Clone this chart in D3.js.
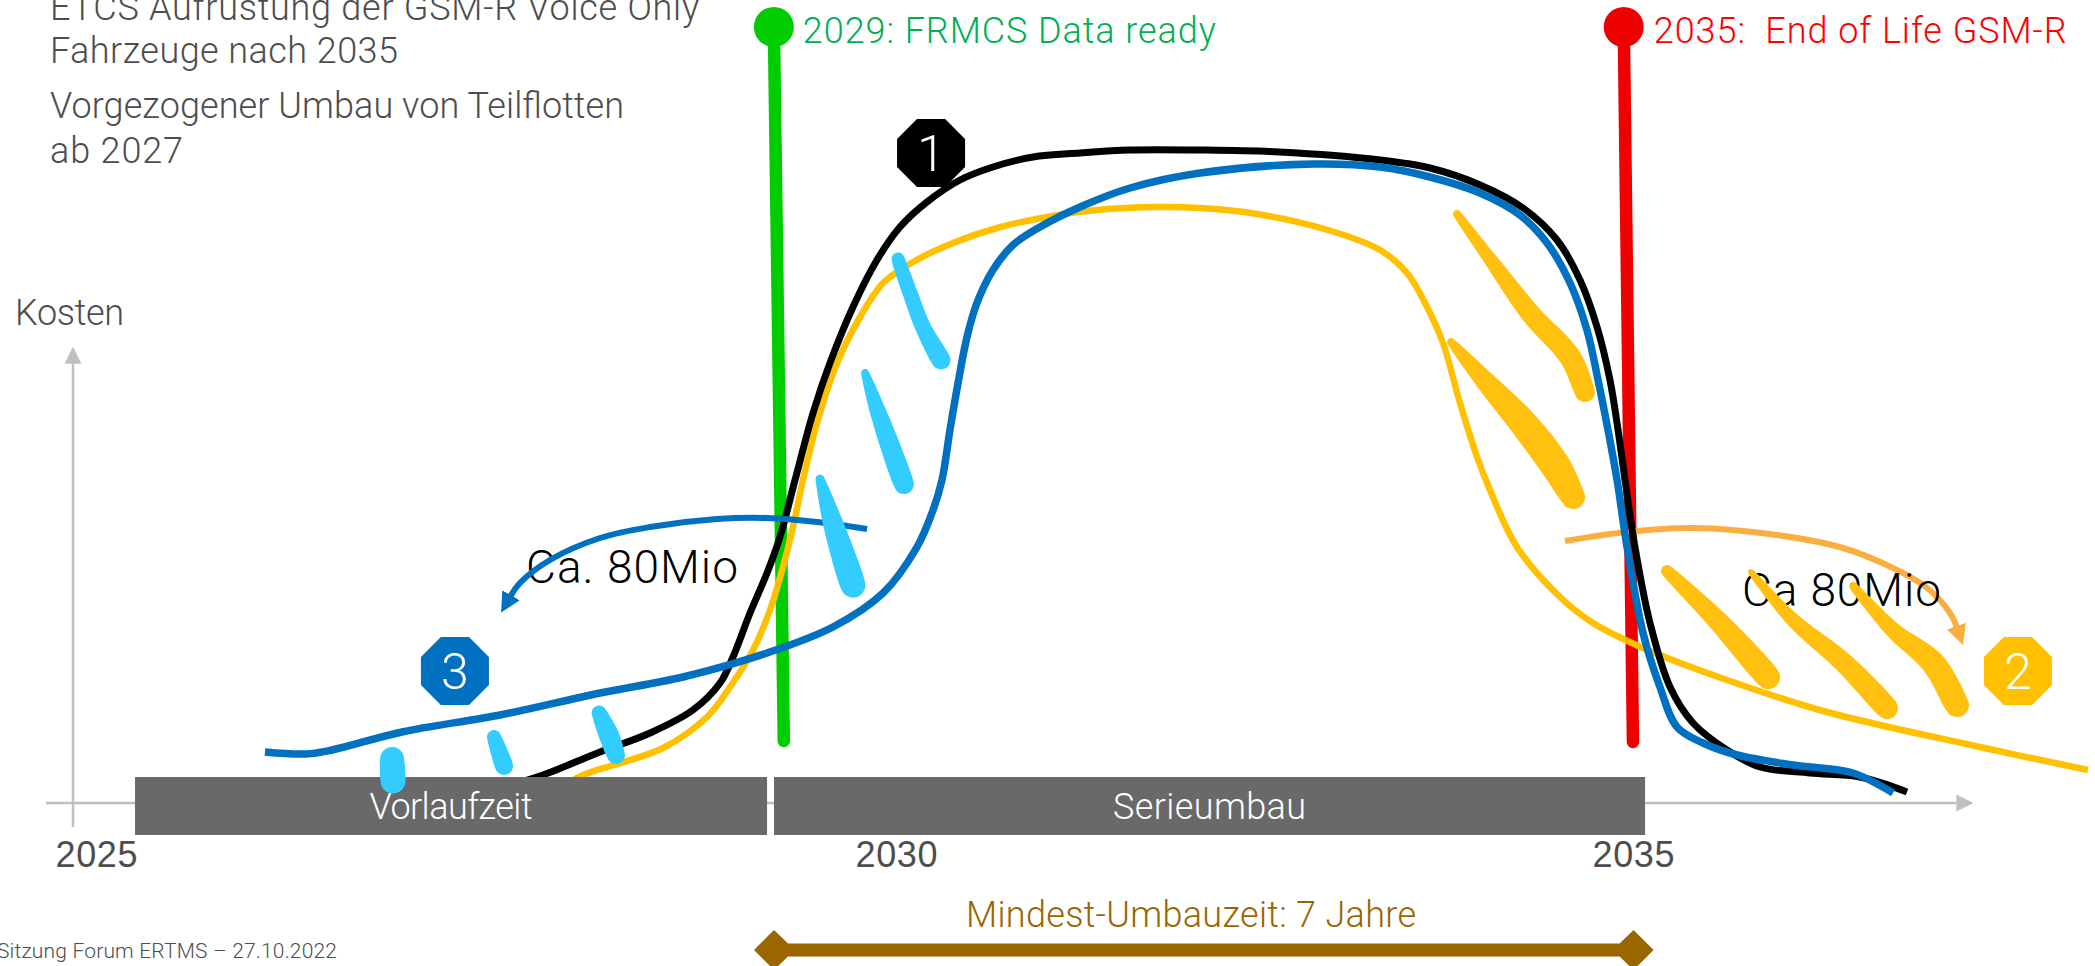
<!DOCTYPE html>
<html lang="de">
<head>
<meta charset="utf-8">
<title>Kostenverlauf ETCS-Aufrüstung</title>
<script src="https://cdn.jsdelivr.net/npm/d3@7/dist/d3.min.js"></script>
<style>
  html, body { margin: 0; padding: 0; background: #fff; overflow: hidden; }
  svg { display: block; }
  text { font-family: Roboto, "Liberation Sans", sans-serif; font-weight: 300; }
</style>
</head>
<body>
<script>
// Cost curves per migration scenario: [year, cost]
const curveBlack = [[2027.127,3.6],[2027.359,5.6],[2027.761,10.2],[2028.113,14],[2028.415,18.6],[2028.606,24],[2028.697,29.2],[2028.817,38],[2028.937,46],[2029.028,53.2],[2029.134,64.6],[2029.261,78],[2029.380,88],[2029.542,99.2],[2029.711,108.6],[2029.873,115.2],[2030.063,120.2],[2030.296,124.6],[2030.528,127.2],[2030.810,129.2],[2031.141,130],[2031.493,130.6],[2031.986,130.6],[2032.542,130.2],[2033.254,128.6],[2033.606,127],[2033.958,123.6],[2034.261,119],[2034.500,112.6],[2034.662,104.6],[2034.782,95.2],[2034.873,84.6],[2034.930,74.6],[2034.979,64.6],[2035.049,51.2],[2035.155,36],[2035.296,23.2],[2035.458,16],[2035.697,10.6],[2035.930,7.2],[2036.282,6],[2036.634,5.2],[2036.965,2.2]];
const curveGold = [[2027.514,3.6],[2027.641,5.6],[2028.204,11],[2028.514,17.2],[2028.676,23.2],[2028.838,30.6],[2028.958,38.6],[2029.049,47.2],[2029.120,55.2],[2029.190,64.6],[2029.289,76],[2029.430,88],[2029.592,97.2],[2029.754,104],[2029.965,108.2],[2030.246,112],[2030.556,115],[2030.908,117.2],[2031.261,118.6],[2031.683,119.2],[2031.986,119],[2032.345,118],[2032.887,114.6],[2033.254,110.6],[2033.444,106],[2033.585,99.2],[2033.697,92],[2033.817,80],[2033.937,69.2],[2034.028,62.6],[2034.218,51.2],[2034.521,41.2],[2034.754,36],[2035.106,31],[2035.697,24.6],[2036.401,18.2],[2037.479,11.2],[2038.239,6.6]];
const curveBlue = [[2025.401,10.2],[2025.690,9.8],[2025.873,10.6],[2026.366,14.2],[2027.056,17.6],[2027.761,22],[2028.345,25.2],[2028.937,30],[2029.401,35.2],[2029.754,42],[2029.993,51.2],[2030.106,58.6],[2030.169,64.6],[2030.225,74.6],[2030.282,84],[2030.345,93.2],[2030.415,100],[2030.528,106.6],[2030.669,111.6],[2030.859,115.2],[2031.141,119.2],[2031.493,123],[2031.986,126],[2032.789,127.8],[2033.254,127.2],[2033.606,125.2],[2033.958,122],[2034.239,117.6],[2034.430,112],[2034.592,104],[2034.711,94.6],[2034.789,84.6],[2034.859,74.6],[2034.923,64.6],[2034.993,51.2],[2035.106,34],[2035.225,23.2],[2035.345,15.2],[2035.528,12],[2035.768,9.6],[2036.162,7.6],[2036.585,6],[2036.866,2]];

// Curved arrows for the 80 Mio shifted in each direction
const arrowBlue = [[2029.641,54.8],[2029.289,56.2],[2028.937,57],[2028.585,56.8],[2028.113,55.2],[2027.761,53],[2027.408,48.6],[2027.197,44],[2027.127,41.2]];
const arrowAmber = [[2034.556,52.4],[2034.993,54.2],[2035.458,55],[2036.049,53.6],[2036.514,51],[2036.866,47],[2037.106,43],[2037.268,38],[2037.317,35]];

// Hatching under the curves, with the pen width along each stroke
const hatchCyan = [
  [[2029.859,108.8],[2029.944,102],[2030.035,95.2],[2030.162,88.6]],
  [[2029.627,86],[2029.732,77.2],[2029.901,63.8]],
  [[2029.310,64.8],[2029.401,56],[2029.542,43.6]],
  [[2027.754,18],[2027.817,14],[2027.873,9.6]],
  [[2027.014,13.2],[2027.085,7.4]],
  [[2026.296,8.8],[2026.303,4.4]]
];
const hatchCyanPen = [[13,15,16,19],[8,17,20],[9,20,25],[15,20,18],[14,18],[24,25]];
const hatchGold = [
  [[2033.796,117.8],[2034.049,108],[2034.310,98],[2034.592,89.2],[2034.697,82.2]],
  [[2033.754,92.2],[2034.007,84],[2034.261,76],[2034.486,67.6],[2034.613,61.2]],
  [[2035.275,46.4],[2035.627,36.6],[2035.986,25.2]],
  [[2035.866,46.2],[2036.162,36.6],[2036.514,28.2],[2036.824,19]],
  [[2036.585,43.4],[2036.866,34.6],[2037.148,28],[2037.317,19.6]]
];
const hatchGoldPen = [[8,14,20,22,20],[8,20,28,30,24],[12,20,24],[6,14,20,22],[8,16,24,24]];

// Milestones and their slight hand-drawn lean at top and foot
const milestoneYears = [2029, 2035];
const milestoneLeanTop = [-0.015, -0.03];
const milestoneLeanFoot = [0.055, 0.035];
const milestoneTop = [155.2, 155.2];
const milestoneFoot = [12.4, 12.2];
const milestoneLabels = ["2029: FRMCS Data ready", "2035:  End of Life GSM-R"];
const milestoneColors = ["#00cc00", "#ee0000"];
const milestoneTextColors = ["#00b050", "#ff0000"];

// Project phases
const phaseNames = ["Vorlaufzeit", "Serieumbau"];
const phaseStart = [2024.486, 2028.986];
const phaseEnd = [2028.937, 2035.120];

// Axis ticks
const tickYears = [2025, 2030, 2035];

// Numbered badges: [year, cost]
const badgeNumbers = ["1", "2", "3"];
const badgeColors = ["#000000", "#ffc000", "#0070c0"];
const badgeCentres = [[2030.092, 130], [2037.746, 26.4], [2026.739, 26.4]];

const W = 2095, H = 966;
const x = d3.scaleLinear().domain([2029, 2035]).range([776, 1628]);
const y = d3.scaleLinear().domain([0, 160.6]).range([803, 0]);
// The printed years sit on their own, schematic spacing
const xTicks = d3.scaleLinear().domain(tickYears).range([96, 896, 1633]);

const svg = d3.select("body").append("svg").attr("width", W).attr("height", H).attr("viewBox", `0 0 ${W} ${H}`);
const grey = "#bfbfbf", ink = "#4d4d4d";

const defs = svg.append("defs");
function arrowMarker(id, color, size) {
  defs.append("marker").attr("id", id).attr("markerUnits", "userSpaceOnUse")
    .attr("viewBox", "0 0 10 10").attr("refX", 1).attr("refY", 5)
    .attr("markerWidth", size).attr("markerHeight", size).attr("orient", "auto")
    .append("path").attr("d", "M0,0L10,5L0,10Z").attr("fill", color);
}
arrowMarker("headBlue", "#0070c0", 20);
arrowMarker("headAmber", "#fbae40", 20);
arrowMarker("headGrey", grey, 17);

const label = (text, px, py, size, color, width, anchor) => svg.append("text")
  .attr("x", px).attr("y", py).attr("font-size", size).attr("fill", color)
  .attr("text-anchor", anchor || "start").attr("textLength", width).text(text);

// Explanatory text top left
label("ETCS Aufrüstung der GSM-R Voice Only", 50, 20, 36, ink, 649);
label("Fahrzeuge nach 2035", 50, 63, 36, ink, 348);
label("Vorgezogener Umbau von Teilflotten", 50, 118, 36, ink, 574);
label("ab 2027", 50, 163, 36, ink, 133);
label("Kosten", 15, 325, 36, ink, 109);

// Axes
svg.append("line").attr("x1", 46).attr("x2", 1958).attr("y1", y(0)).attr("y2", y(0))
  .attr("stroke", grey).attr("stroke-width", 2.5).attr("marker-end", "url(#headGrey)");
svg.append("line").attr("x1", 73).attr("x2", 73).attr("y1", 827).attr("y2", 362)
  .attr("stroke", grey).attr("stroke-width", 2.5).attr("marker-end", "url(#headGrey)");

const axis = svg.append("g").attr("transform", "translate(0,836)")
  .call(d3.axisBottom(xTicks).tickValues(tickYears).tickFormat(d3.format("d")).tickSize(0).tickPadding(0));
axis.select(".domain").remove();
axis.selectAll("text").attr("y", 31).attr("dy", 0).attr("font-size", 36).attr("fill", ink)
  .attr("textLength", 82).style("font-family", "inherit");

// Milestone stems
const ms = svg.append("g").selectAll("g").data(milestoneYears).join("g");
ms.append("line")
  .attr("x1", (d, i) => x(d + milestoneLeanTop[i])).attr("y1", (d, i) => y(milestoneTop[i]))
  .attr("x2", (d, i) => x(d + milestoneLeanFoot[i])).attr("y2", (d, i) => y(milestoneFoot[i]))
  .attr("stroke", (d, i) => milestoneColors[i]).attr("stroke-width", 12.5).attr("stroke-linecap", "round");
ms.append("circle")
  .attr("cx", (d, i) => x(d + milestoneLeanTop[i])).attr("cy", (d, i) => y(milestoneTop[i]))
  .attr("r", 20).attr("fill", (d, i) => milestoneColors[i]);
ms.append("text")
  .attr("x", (d, i) => x(d + milestoneLeanTop[i]) + (i ? 30 : 29))
  .attr("y", 43).attr("font-size", 36).attr("textLength", 413)
  .attr("fill", (d, i) => milestoneTextColors[i])
  .style("white-space", "pre").text((d, i) => milestoneLabels[i]);

// Scenario curves
const curve = d3.line().x(d => x(d[0])).y(d => y(d[1])).curve(d3.curveCatmullRom.alpha(0.5));
const stroke = (data, color, width, extra) => {
  const p = svg.append("path").attr("d", curve(data)).attr("fill", "none")
    .attr("stroke", color).attr("stroke-width", width);
  if (extra) p.attr("marker-end", extra);
  return p;
};
stroke(arrowAmber, "#fbae40", 6, "url(#headAmber)");
stroke(curveGold, "#ffc000", 6.5);
stroke(curveBlack, "#000000", 7);
stroke(curveBlue, "#0070c0", 7.5);

// Phase bars
const bars = svg.append("g").selectAll("g").data(phaseNames).join("g");
bars.append("rect")
  .attr("x", (d, i) => x(phaseStart[i])).attr("width", (d, i) => x(phaseEnd[i]) - x(phaseStart[i]))
  .attr("y", 777).attr("height", 58).attr("fill", "#696969");
bars.append("text")
  .attr("x", (d, i) => i ? 1209.5 : 451).attr("y", 819).attr("text-anchor", "middle")
  .attr("font-size", 36).attr("fill", "#ffffff").attr("textLength", (d, i) => i ? 193 : 163).text(d => d);

// Value labels
label("Ca. 80Mio", 526, 583, 46, "#000000", 212);
label("Ca 80Mio", 1742, 606, 46, "#000000", 199);
stroke(arrowBlue, "#0070c0", 6, "url(#headBlue)");

// Tapered pen stroke: a smooth closed outline offset from the points, with rounded ends
const outline = d3.line().curve(d3.curveCatmullRomClosed.alpha(0.5));
function penPath(points, pen) {
  const pts = points.map(d => [x(d[0]), y(d[1])]);
  const frames = pts.map((p, i) => {
    const a = pts[Math.max(i - 1, 0)], b = pts[Math.min(i + 1, pts.length - 1)];
    const len = Math.hypot(b[0] - a[0], b[1] - a[1]);
    return [(b[0] - a[0]) / len, (b[1] - a[1]) / len];
  });
  const at = (i, deg) => {
    const r = pen[i] / 2, t = frames[i], c = Math.cos(deg * Math.PI / 180), s = Math.sin(deg * Math.PI / 180);
    return [pts[i][0] + r * (c * t[0] - s * t[1]), pts[i][1] + r * (c * t[1] + s * t[0])];
  };
  const last = pts.length - 1;
  const ring = [];
  pts.forEach((p, i) => ring.push(at(i, 90)));
  [60, 30, 0, -30, -60].forEach(a => ring.push(at(last, a)));
  for (let i = last; i >= 0; i--) ring.push(at(i, -90));
  [-120, -150, 180, 150, 120].forEach(a => ring.push(at(0, a)));
  return outline(ring);
}
svg.append("g").selectAll("path").data(hatchCyan).join("path")
  .attr("d", (d, i) => penPath(d, hatchCyanPen[i])).attr("fill", "#33ccff");
svg.append("g").selectAll("path").data(hatchGold).join("path")
  .attr("d", (d, i) => penPath(d, hatchGoldPen[i])).attr("fill", "#ffc010");

// Numbered octagon badges
const octagon = d3.range(8).map(k => {
  const a = Math.PI / 8 + k * Math.PI / 4;
  return [36.8 * Math.cos(a), 36.8 * Math.sin(a)];
});
const badges = svg.append("g").selectAll("g").data(badgeNumbers).join("g")
  .attr("transform", (d, i) => `translate(${x(badgeCentres[i][0])},${y(badgeCentres[i][1])})`);
badges.append("polygon").attr("points", octagon.join(" ")).attr("fill", (d, i) => badgeColors[i]);
badges.append("text").attr("text-anchor", "middle").attr("y", 18).attr("font-size", 50)
  .attr("fill", "#fff").text(d => d);

// Minimum conversion time bracket
const spanStart = 2028.845, spanEnd = 2035.18;
label("Mindest-Umbauzeit: 7 Jahre", 966, 927, 36, "#996600", 450);
const hx1 = x(spanStart), hx2 = x(spanEnd), hy = 950;
svg.append("path").attr("fill", "#996600").attr("d", d3.line()([
  [hx1, hy], [hx1 + 20, hy - 20], [hx1 + 34, hy - 6.5], [hx2 - 34, hy - 6.5], [hx2 - 20, hy - 20],
  [hx2, hy], [hx2 - 20, hy + 20], [hx2 - 34, hy + 6.5], [hx1 + 34, hy + 6.5], [hx1 + 20, hy + 20]
]) + "Z");

label("Sitzung Forum ERTMS – 27.10.2022", 337, 958, 21, ink, 340, "end");
</script>
</body>
</html>
